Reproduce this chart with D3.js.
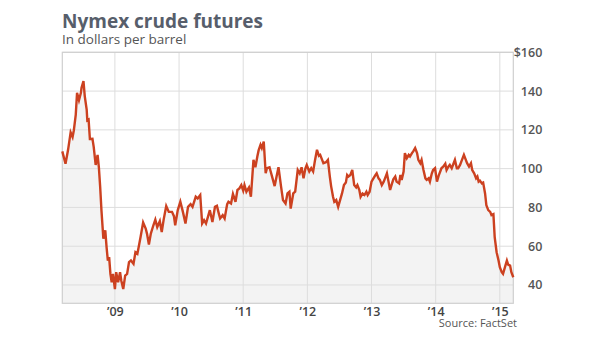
<!DOCTYPE html>
<html>
<head>
<meta charset="utf-8">
<script src="https://cdn.jsdelivr.net/npm/d3@7"></script>
<style>
  html, body { margin: 0; padding: 0; background: #fff; }
  svg { display: block; font-family: "Open Sans", "Noto Sans", sans-serif; }
</style>
</head>
<body>
<svg id="chart" width="600" height="338"></svg>
<script>
// Weekly settlement, Nymex crude oil front-month (decimal year, $/barrel)
const years = [
  2008.18, 2008.23, 2008.27, 2008.31, 2008.34, 2008.36, 2008.39, 2008.41, 2008.44, 2008.47,
  2008.48, 2008.51, 2008.53, 2008.56, 2008.57, 2008.59, 2008.61, 2008.65, 2008.67, 2008.70,
  2008.73, 2008.75, 2008.77, 2008.79, 2008.82, 2008.85, 2008.87, 2008.89, 2008.91, 2008.93,
  2008.95, 2008.97, 2009.00, 2009.02, 2009.05, 2009.08, 2009.10, 2009.13, 2009.16, 2009.19,
  2009.22, 2009.25, 2009.29, 2009.32, 2009.35, 2009.37, 2009.40, 2009.44, 2009.48, 2009.50,
  2009.53, 2009.56, 2009.60, 2009.63, 2009.66, 2009.70, 2009.73, 2009.76, 2009.80, 2009.84,
  2009.89, 2009.92, 2009.94, 2009.98, 2010.02, 2010.06, 2010.10, 2010.14, 2010.18, 2010.21,
  2010.26, 2010.29, 2010.33, 2010.36, 2010.39, 2010.42, 2010.45, 2010.48, 2010.52, 2010.56,
  2010.59, 2010.62, 2010.64, 2010.68, 2010.71, 2010.75, 2010.77, 2010.81, 2010.84, 2010.88,
  2010.91, 2010.94, 2010.97, 2011.00, 2011.02, 2011.05, 2011.09, 2011.12, 2011.16, 2011.19,
  2011.22, 2011.24, 2011.27, 2011.29, 2011.32, 2011.35, 2011.37, 2011.41, 2011.45, 2011.49,
  2011.52, 2011.55, 2011.59, 2011.62, 2011.66, 2011.69, 2011.72, 2011.74, 2011.78, 2011.81,
  2011.85, 2011.88, 2011.91, 2011.94, 2011.97, 2011.99, 2012.03, 2012.06, 2012.09, 2012.12,
  2012.15, 2012.18, 2012.20, 2012.23, 2012.25, 2012.29, 2012.32, 2012.35, 2012.37, 2012.40,
  2012.42, 2012.45, 2012.48, 2012.51, 2012.54, 2012.57, 2012.60, 2012.62, 2012.64, 2012.67,
  2012.70, 2012.73, 2012.76, 2012.78, 2012.81, 2012.83, 2012.86, 2012.89, 2012.92, 2012.94,
  2012.97, 2013.00, 2013.03, 2013.06, 2013.08, 2013.11, 2013.13, 2013.16, 2013.19, 2013.21,
  2013.24, 2013.26, 2013.29, 2013.32, 2013.34, 2013.37, 2013.39, 2013.43, 2013.45, 2013.47,
  2013.50, 2013.52, 2013.55, 2013.58, 2013.60, 2013.63, 2013.65, 2013.68, 2013.71, 2013.73,
  2013.76, 2013.78, 2013.81, 2013.84, 2013.86, 2013.89, 2013.91, 2013.94, 2013.96, 2013.99,
  2014.02, 2014.05, 2014.09, 2014.12, 2014.15, 2014.17, 2014.20, 2014.22, 2014.25, 2014.28,
  2014.30, 2014.33, 2014.35, 2014.38, 2014.41, 2014.44, 2014.47, 2014.49, 2014.52, 2014.55,
  2014.57, 2014.60, 2014.63, 2014.65, 2014.67, 2014.69, 2014.72, 2014.74, 2014.77, 2014.79,
  2014.82, 2014.85, 2014.87, 2014.90, 2014.92, 2014.95, 2014.98, 2015.00, 2015.03, 2015.05,
  2015.08, 2015.11, 2015.13, 2015.16, 2015.18, 2015.21
];
const prices = [
  108.9, 102.5, 109.7, 118.7, 116.3, 119.8, 127.9, 139.1, 135.3, 139.1,
  141.7, 145.2, 137.4, 130.5, 124.9, 125.3, 115.3, 115.4, 111.1, 101.9,
  107.1, 100.7, 90.7, 78.6, 63.9, 68.2, 59.5, 52.6, 54.4, 45.7,
  41.4, 45.7, 37.9, 46.6, 41.4, 46.6, 42.2, 37.9, 44.8, 45.7,
  51.8, 52.6, 50.9, 56.9, 56.1, 59.5, 64.7, 72.2, 69.1, 66.5,
  60.9, 66.5, 70.8, 73.7, 69.9, 72.9, 67.3, 73.7, 80.7, 77.7,
  77.7, 75.5, 70.8, 78.6, 82.9, 77.7, 71.7, 80.3, 81.7, 80.3,
  85.5, 84.6, 86.4, 71.7, 73.4, 71.7, 75.1, 78.6, 72.5, 80.3,
  80.8, 76.8, 74.3, 76.0, 74.3, 81.7, 82.9, 82.0, 86.9, 82.9,
  89.0, 89.8, 91.5, 88.6, 91.5, 88.1, 90.3, 85.5, 104.5, 100.7,
  106.3, 109.4, 112.3, 110.6, 114.0, 97.6, 100.2, 100.7, 95.9, 91.0,
  95.9, 100.7, 90.7, 83.8, 82.0, 87.2, 88.1, 79.4, 87.2, 88.1,
  99.3, 97.6, 100.7, 95.0, 100.2, 101.9, 98.5, 100.2, 98.5, 104.5,
  109.7, 106.6, 107.1, 104.5, 102.8, 103.3, 104.5, 95.9, 91.0, 85.5,
  82.9, 83.8, 80.3, 83.8, 87.2, 91.5, 92.8, 96.7, 95.9, 96.7,
  99.3, 91.5, 90.3, 91.5, 89.0, 85.5, 87.2, 86.4, 88.1, 86.4,
  88.1, 93.3, 95.0, 96.7, 97.6, 95.0, 94.2, 91.5, 93.3, 95.0,
  97.6, 94.2, 89.0, 92.4, 94.5, 95.9, 93.3, 92.4, 96.7, 94.2,
  98.5, 108.0, 105.4, 107.1, 106.3, 108.0, 108.9, 110.6, 108.0, 104.5,
  102.8, 104.5, 99.3, 95.0, 94.2, 95.0, 93.3, 97.6, 99.3, 100.2,
  93.3, 96.7, 100.2, 101.1, 102.5, 99.3, 101.1, 101.9, 100.2, 102.8,
  104.5, 100.2, 100.2, 101.9, 104.5, 107.1, 104.5, 102.8, 101.1, 102.8,
  99.3, 97.6, 95.0, 95.9, 93.3, 93.8, 92.4, 92.8, 87.2, 81.2,
  78.6, 77.7, 76.0, 76.5, 64.7, 56.9, 52.6, 49.2, 46.6, 45.7,
  49.2, 52.6, 50.5, 50.0, 46.6, 44.0
];
const yTicks = [40, 60, 80, 100, 120, 140, 160];
const xTicks = [2009, 2010, 2011, 2012, 2013, 2014, 2015];
const xTickLabels = ["\u201909", "\u201910", "\u201911", "\u201912", "\u201913", "\u201914", "\u201915"];

const data = years.map((t, i) => ({ t, v: prices[i] }));

const plot = { left: 62.3, right: 513.3, top: 52.3, bottom: 303.3 };
const svg = d3.select("#chart");

const x = d3.scaleLinear().domain(d3.extent(years)).range([plot.left, plot.right]);
const y = d3.scaleLinear().domain([30.55, 160]).range([plot.bottom, plot.top]);

// Title and subtitle
svg.append("text")
  .attr("x", 62).attr("y", 27.5)
  .attr("fill", "#575e6b")
  .attr("font-size", 19).attr("font-weight", 700)
  .text("Nymex crude futures");
svg.append("text")
  .attr("x", 62).attr("y", 44)
  .attr("fill", "#555")
  .attr("font-size", 13.5)
  .text("In dollars per barrel");

// Shaded area under the price line
const area = d3.area().x(d => x(d.t)).y0(plot.bottom).y1(d => y(d.v));
svg.append("path").datum(data)
  .attr("d", area)
  .attr("fill", "#f3f3f3");

// Grid
const grid = svg.append("g").attr("stroke", "#dddddd").attr("stroke-width", 1);
grid.selectAll("line.h").data(yTicks).join("line")
  .attr("class", "h")
  .attr("x1", plot.left).attr("x2", plot.right)
  .attr("y1", d => y(d)).attr("y2", d => y(d));
grid.selectAll("line.v").data(xTicks).join("line")
  .attr("class", "v")
  .attr("x1", d => x(d)).attr("x2", d => x(d))
  .attr("y1", plot.top).attr("y2", plot.bottom);

// Frame
svg.append("rect")
  .attr("x", plot.left).attr("y", plot.top)
  .attr("width", plot.right - plot.left).attr("height", plot.bottom - plot.top)
  .attr("fill", "none").attr("stroke", "#cfcfcf").attr("stroke-width", 1.2);

// Price line
const line = d3.line().x(d => x(d.t)).y(d => y(d.v));
svg.append("path").datum(data)
  .attr("d", line)
  .attr("fill", "none")
  .attr("stroke", "#cc4120")
  .attr("stroke-width", 2.4)
  .attr("stroke-linejoin", "miter");

// Right value axis
const yAxis = d3.axisRight(y).tickValues(yTicks).tickSize(0).tickPadding(0)
  .tickFormat(d => d === 160 ? "$160" : String(d));
const gy = svg.append("g").attr("transform", `translate(${plot.right + 29},0)`).call(yAxis);
gy.select(".domain").remove();
gy.selectAll("text")
  .attr("text-anchor", "end")
  .attr("x", 0)
  .attr("fill", "#555")
  .attr("font-size", 12.5).attr("font-weight", 600)
  .attr("font-family", "'Open Sans', sans-serif");

// Bottom year axis
const xAxis = d3.axisBottom(x).tickValues(xTicks).tickSize(0).tickPadding(0)
  .tickFormat((d, i) => xTickLabels[i]);
const gx = svg.append("g").attr("transform", `translate(0,${plot.bottom})`).call(xAxis);
gx.select(".domain").remove();
gx.selectAll("text")
  .attr("dy", 0).attr("y", 12.5)
  .attr("fill", "#444")
  .attr("font-size", 12.5).attr("font-weight", 600)
  .attr("font-family", "'Open Sans', sans-serif");

// Source note
svg.append("text")
  .attr("x", 517).attr("y", 327)
  .attr("text-anchor", "end")
  .attr("fill", "#555")
  .attr("font-size", 11)
  .text("Source: FactSet");
</script>
</body>
</html>
